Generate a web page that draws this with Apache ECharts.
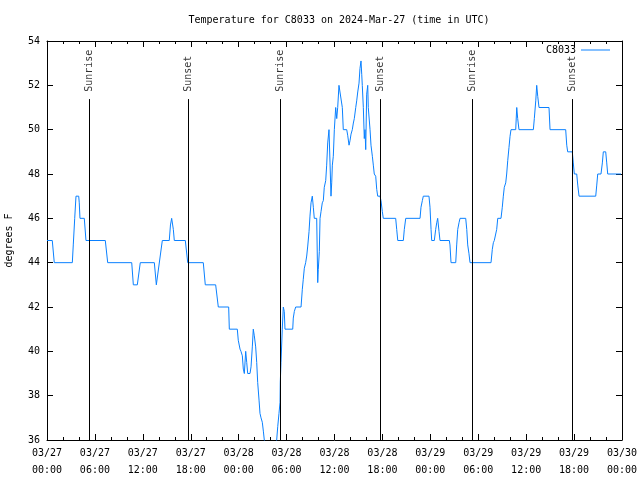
<!DOCTYPE html>
<html><head><meta charset="utf-8">
<script src="https://cdn.jsdelivr.net/npm/echarts@6/dist/echarts.min.js"></script>
<style>html,body{margin:0;padding:0;background:#fff}#c{width:640px;height:480px}</style>
</head><body><div id="c"></div>
<script>
// hours since 2024-03-27 00:00 UTC
const hours = [0,0.66,0.91,3.17,3.29,3.47,3.63,3.97,4.04,4.13,4.67,4.88,7.30,7.60,10.61,10.81,11.31,11.68,13.44,13.69,13.94,14.44,15.31,15.46,15.61,15.82,15.94,17.32,17.62,19.57,19.82,21.12,21.45,22.75,22.83,23.83,
23.95,24.17,24.29,24.46,24.58,24.71,24.88,25.01,25.13,25.42,25.55,25.71,25.83,25.96,26.13,26.26,26.38,26.55,26.67,26.80,26.96,27.09,27.21,27.36,28.61,28.76,28.89,29.05,29.18,29.21,29.30,29.46,29.59,29.71,29.80,30.77,30.84,30.97,31.14,31.81,31.97,32.09,32.22,32.39,32.52,32.65,32.81,32.93,33.06,33.22,33.35,33.47,33.77,33.90,33.97,34.10,34.19,34.31,34.47,34.60,34.72,34.90,35.02,35.15,35.31,35.44,35.56,35.65,35.73,35.85,35.98,36.15,36.28,36.40,36.56,36.81,36.98,37.10,37.53,37.65,37.82,37.94,38.07,38.23,38.36,38.48,38.66,38.78,38.91,39.07,39.19,39.32,39.41,39.48,39.61,39.73,39.82,39.91,40.03,40.16,40.23,40.45,40.57,40.74,40.86,40.98,41.16,41.29,41.41,41.70,41.82,41.99,42.11,43.66,43.79,43.92,44.62,44.74,44.92,46.71,46.83,47.00,47.12,47.83,47.96,48.09,48.17,48.50,48.67,48.80,48.92,49.09,49.21,50.38,50.46,50.59,51.18,51.30,51.43,51.59,51.72,52.43,52.56,52.68,52.84,52.97,55.60,55.76,55.89,56.01,56.31,56.44,56.85,57.01,57.14,57.26,57.44,57.56,57.69,57.85,57.98,58.10,58.69,58.82,58.94,59.10,60.90,61.02,61.20,61.32,61.45,61.61,62.86,62.99,64.95,65.08,65.20,65.78,65.90,66.03,66.33,66.46,66.62,68.71,68.84,68.96,69.37,69.54,69.66,69.96,70.09,70.21,71.88];
const temps = [45,45,44,44,44.8,46,47,47,46.7,46,46,45,45,44,44,43,43,44,44,43,43,45,45,45.7,46,45.5,45,45,44,44,43,43,42,42,41,41,
40.5,40.1,40,39.8,39.2,39,40,39.5,39,39,39.3,40.2,41,40.7,40.2,39.5,38.6,37.8,37.2,37,36.8,36.4,36,35.7,35.7,36,36.6,37.2,37.7,38.6,39.5,41,42,41.8,41,41,41.5,41.8,42,42,42.8,43.25,43.75,44,44.3,44.75,45.4,46.1,46.7,47,46.5,46,46,43.1,43.7,44.5,46,46.3,46.7,46.8,47.4,47.7,48.4,49.4,50,48.5,47,47.6,48.4,48.8,50,51,50.5,51,52,52,51,50,50,49.75,49.3,49.5,49.8,50,50.3,50.5,51,51.3,51.7,52.1,52.76,53.1,52.5,52,51,49.6,50,49.1,51.6,52,51,50,49.3,48.8,48.4,48,47.9,47.3,47,47,46.8,46.3,46,46,45.5,45,45,45.5,46,46,46.5,46.8,47,47,46.5,45.5,45,45,45.5,45.8,46,45.4,45,45,44.8,44,44,44.8,45.5,45.8,46,46,45.5,44.8,44.4,44,44,44.6,44.9,45,45.5,46,46,46.5,47,47.4,47.6,48,48.6,49.2,49.7,50,50,51,50.5,50,50,50.5,51.3,52,51.5,51,51,50,50,49.3,49,49,48.5,48,48,47.5,47,47,47.5,48,48,48.5,49,49,48.5,48,48];
const eventHours = [5.30, 17.69, 29.21, 41.74, 53.26, 65.78];
const eventNames = ['Sunrise','Sunset','Sunrise','Sunset','Sunrise','Sunset'];
const tickDates = ['03/27','03/27','03/27','03/27','03/28','03/28','03/28','03/28','03/29','03/29','03/29','03/29','03/30'];
const tickTimes = ['00:00','06:00','12:00','18:00','00:00','06:00','12:00','18:00','00:00','06:00','12:00','18:00','00:00'];

const FONT = "'DejaVu Sans Mono', 'Liberation Mono', monospace";
const LINE_COLOR = '#0a80ff';
const chart = echarts.init(document.getElementById('c'), null, {renderer:'canvas'});
const blk = {color:'#000', width:1};
function xAx(pos, labels){
  return {type:'value', position:pos, min:0, max:72, interval:6,
    axisLine:{show:true, onZero:false, lineStyle:blk},
    axisTick:{show:true, inside:true, length:6, lineStyle:blk},
    minorTick:{show:true, splitNumber:3, length:3, lineStyle:blk},
    splitLine:{show:false}, minorSplitLine:{show:false},
    axisLabel:{show:labels, showMinLabel:true, showMaxLabel:true, hideOverlap:false, fontFamily:FONT, fontSize:10, color:'#000', lineHeight:17, margin:5,
      formatter:function(v){const i=Math.round(v/6); return tickDates[i]+'\n'+tickTimes[i];}}};
}
function yAx(pos, labels){
  const o = {type:'value', position:pos, min:36, max:54, interval:2,
    axisLine:{show:true, onZero:false, lineStyle:blk},
    axisTick:{show:true, inside:true, length:6, lineStyle:blk},
    splitLine:{show:false},
    axisLabel:{show:labels, showMinLabel:true, showMaxLabel:true, fontFamily:FONT, fontSize:10, color:'#000', margin:7}};
  if (labels) { o.name='degrees F'; o.nameLocation='middle'; o.nameRotate=90; o.nameGap=33;
    o.nameTextStyle={fontFamily:FONT, fontSize:10, color:'#000'}; }
  return o;
}
const option = {
  animation:false,
  backgroundColor:'#fff',
  title:{text:'Temperature for C8033 on 2024-Mar-27 (time in UTC)', left:334, top:10, textAlign:'center',
    textStyle:{fontFamily:FONT, fontSize:10, fontWeight:'normal', color:'#000'}},
  legend:{data:[{name:'C8033', icon:'rect'}], right:30, top:45, padding:0, align:'right', itemWidth:29, itemHeight:1, itemGap:5,
    textStyle:{fontFamily:FONT, fontSize:10, color:'#000'}},
  grid:{left:47, right:18, top:41, bottom:40, containLabel:false, outerBoundsMode:'none'},
  xAxis:[xAx('bottom', true), xAx('top', false)],
  yAxis:[yAx('left', true), yAx('right', false)],
  series:[
    {name:'C8033', type:'line', xAxisIndex:0, yAxisIndex:0, symbol:'none', showSymbol:false, clip:true,
     data: hours.map((h,i)=>[h, temps[i]]),
     lineStyle:{color:LINE_COLOR, width:1}, itemStyle:{color:LINE_COLOR},
     markLine:{silent:true, symbol:['none','none'], label:{show:false}, lineStyle:{color:'#000', width:1, type:'solid'},
       data: eventHours.map(h=>[{coord:[h,36]},{coord:[h,51.38]}])}},
    {name:'events', type:'scatter', xAxisIndex:0, yAxisIndex:0, symbolSize:1, itemStyle:{color:'rgba(0,0,0,0)'}, silent:true,
     data: eventHours.map((h,i)=>[h, 51.71, eventNames[i]]),
     label:{show:true, position:'inside', rotate:90, align:'left', verticalAlign:'middle', formatter:p=>p.data[2],
       fontFamily:FONT, fontSize:10, color:'#000'}}
  ]
};
chart.setOption(option);
</script></body></html>
